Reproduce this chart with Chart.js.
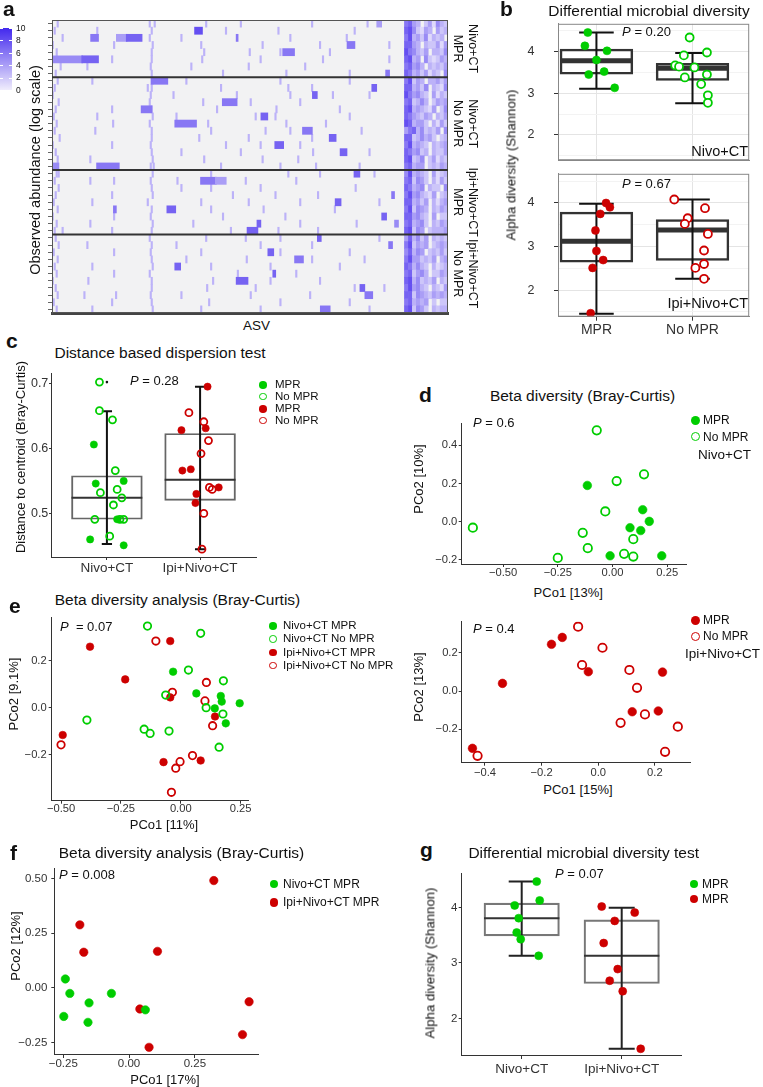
<!DOCTYPE html>
<html>
<head>
<meta charset="utf-8">
<title>Microbial diversity panels</title>
<script src="https://cdn.jsdelivr.net/npm/chart.js@4.4.1/dist/chart.umd.min.js"></script>
<style>
  body { margin: 0; background: #fff; }
  #fig { position: relative; width: 763px; height: 1087px; overflow: hidden; background: #fff;
         font-family: 'Liberation Sans', Arial, Helvetica, sans-serif; color: #111; }
  #fig canvas { position: absolute; }
  .t { position: absolute; white-space: nowrap; line-height: 1; }
  .dot { position: absolute; border-radius: 50%; box-sizing: border-box; }
</style>
</head>
<body>
<div id="fig"></div>
<script>
const FONT = "'Liberation Sans', Arial, Helvetica, sans-serif";
const GREEN = '#00cd00';
const RED = '#cd0000';

// ---------- a: ASV abundance heatmap ----------
const heatGroups = [['Nivo+CT', 'MPR'], ['Nivo+CT', 'No MPR'], ['Ipi+Nivo+CT', 'MPR'], ['Ipi+Nivo+CT', 'No MPR']];
const heatGroupSizes = [8, 13, 9, 11];
const asvCount = 400;
const heatLegendTicks = [10, 8, 6, 4, 2, 0];
// abundant runs of ASVs: [row, first ASV, last ASV, log abundance]
const heatBlocks = [
  [0, 328, 332, 4], [1, 144, 151, 8], [2, 39, 46, 6], [2, 65, 75, 4], [2, 75, 90, 7], [2, 186, 187, 6],
  [3, 298, 305, 6], [4, 233, 244, 6], [5, 0, 30, 5], [5, 30, 46, 7], [7, 337, 340, 6],
  [8, 100, 116, 6], [9, 323, 327, 7], [10, 263, 267, 7], [11, 172, 186, 6], [12, 90, 100, 6],
  [13, 211, 217, 7], [14, 124, 145, 6], [15, 253, 262, 6], [16, 280, 286, 7], [17, 225, 233, 7],
  [18, 291, 297, 7], [20, 0, 6, 5], [20, 45, 67, 6],
  [21, 305, 310, 7], [22, 150, 165, 6], [22, 165, 175, 4], [24, 343, 345, 6], [25, 286, 291, 7],
  [26, 116, 124, 7], [26, 62, 64, 6], [27, 333, 337, 7], [28, 207, 210, 7], [28, 346, 349, 5], [29, 197, 207, 7],
  [30, 268, 271, 7], [31, 340, 343, 6], [32, 218, 223, 7], [33, 245, 253, 6], [34, 124, 129, 7],
  [35, 223, 225, 7], [36, 186, 197, 7], [37, 311, 315, 7], [38, 316, 323, 6], [40, 271, 280, 6]
];
// isolated low-abundance ASVs in each row
const heatSparse = [
  [5, 98, 103, 155, 190, 262, 318], [2, 45, 100, 175, 228, 305], [10, 98, 130, 240, 297],
  [0, 62, 101, 150, 212, 270, 340], [4, 100, 153, 199, 230, 280], [60, 100, 151, 210, 273, 340],
  [8, 35, 99, 140, 198, 255], [3, 100, 172, 236, 300],
  [5, 40, 101, 135, 230, 300], [2, 96, 100, 170, 238, 262], [0, 99, 122, 186, 240, 283, 320],
  [6, 98, 152, 200, 250], [3, 60, 100, 166, 226, 290], [1, 45, 101, 125, 205, 225, 300],
  [4, 61, 98, 157, 236, 276], [2, 43, 100, 160, 215, 240, 312], [7, 100, 148, 198, 262],
  [0, 60, 99, 175, 210, 250], [3, 100, 130, 190, 263, 320], [5, 38, 101, 153, 212, 248],
  [99, 102, 170, 230, 266, 310],
  [4, 6, 101, 160, 238, 270, 325], [2, 38, 62, 99, 126, 195, 246], [6, 100, 130, 160, 210, 306],
  [3, 60, 101, 182, 225, 268], [1, 40, 96, 150, 198, 250, 330], [5, 100, 160, 213, 285],
  [0, 62, 99, 172, 235], [4, 38, 101, 142, 250, 307], [2, 10, 60, 100, 180, 228, 268],
  [3, 98, 155, 195, 230, 330], [6, 35, 100, 125, 210, 262], [1, 62, 99, 150, 230, 300],
  [5, 100, 135, 196, 262, 315], [2, 40, 101, 160, 220, 290], [4, 62, 98, 187, 246],
  [0, 36, 100, 162, 220, 270], [3, 100, 156, 205, 305, 335], [5, 32, 64, 99, 130, 200, 260],
  [1, 60, 100, 158, 230, 300], [4, 40, 101, 150, 210, 320]
];
const sparseLevel = 3;
// shared core ASVs 356-399: one digit (log abundance) per bin of 4 ASVs
const coreStart = 356;
const coreBin = 4;
const heatCore = [
  '67430241532', '78521430423', '68342513230', '77430322414', '86532403325', '78340521243', '67453032324', '76342413205',
  '68243033424', '77342503215', '86453204132', '67235302434', '78343214025', '76432430324', '87344203142',
  '46735232405', '77235342023', '68343203234', '76452303224', '78235024132', '67344023243',
  '58343204123', '67254203142', '76345032205', '68453214023', '77342403134', '68254303243', '77453204022',
  '67345203243', '78254023334',
  '47352403232', '68243402343', '57354023242', '68442324034', '76353203123', '67245302243', '78352324032',
  '68453203214', '77254324343', '67343402022', '78254203233'
];

// ---------- b: Shannon diversity by response, per treatment ----------
const bGroups = ['MPR', 'No MPR'];
const bYTicks = [1.5, 2, 2.5, 3, 3.5, 4, 4.5];
// per group: [lower whisker, Q1, median, Q3, upper whisker]
const bNivoStats = [[3.11, 3.46, 3.78, 4.06, 4.46], [2.76, 3.31, 3.60, 3.72, 3.97]];
const bIpiStats = [[1.46, 2.64, 3.12, 3.79, 3.98], [2.26, 2.68, 3.38, 3.62, 4.08]];
const bNivoMpr = [4.46, 4.14, 4.02, 3.80, 3.52, 3.45, 3.13];
const bNivoMprJit = [-0.09, -0.12, 0.11, 0.00, 0.08, -0.08, 0.19];
const bNivoNo = [4.34, 3.98, 3.91, 3.67, 3.64, 3.62, 3.45, 3.38, 3.22, 2.95, 2.77];
const bNivoNoJit = [-0.03, 0.15, -0.09, -0.18, -0.14, 0.02, 0.15, -0.08, 0.09, 0.16, 0.16];
const bIpiMpr = [4.00, 3.90, 3.75, 3.37, 2.90, 2.69, 2.51, 1.47];
const bIpiMprJit = [0.10, 0.14, 0.04, -0.01, 0.00, 0.07, -0.04, -0.06];
const bIpiNo = [4.08, 3.88, 3.65, 3.52, 3.29, 2.91, 2.60, 2.51, 2.26];
const bIpiNoJit = [-0.19, 0.13, -0.05, -0.08, 0.16, 0.12, 0.12, 0.03, 0.12];

// ---------- c: distance to centroid ----------
const cGroups = ['Nivo+CT', 'Ipi+Nivo+CT'];
const cYTicks = [0.5, 0.6, 0.7];
const cStats = [[0.453, 0.491, 0.524, 0.558, 0.657], [0.445, 0.520, 0.552, 0.623, 0.695]];
const cOutliers = [[1, 0.702]];
const cNivoMpr = [0.606, 0.546, 0.550, 0.460, 0.451, 0.491];
const cNivoMprJit = [-0.14, -0.12, 0.18, -0.18, 0.18, 0.11];
const cNivoNo = [0.702, 0.658, 0.644, 0.566, 0.532, 0.537, 0.513, 0.524, 0.491, 0.491, 0.491, 0.465];
const cNivoNoJit = [-0.08, -0.08, 0.06, 0.09, -0.07, 0.11, 0.07, 0.16, -0.13, 0.14, 0.18, 0.03];
const cIpiMpr = [0.695, 0.628, 0.631, 0.566, 0.568, 0.530, 0.516, 0.540];
const cIpiMprJit = [0.08, -0.20, 0.06, -0.19, -0.10, -0.04, -0.05, 0.20];
const cIpiNo = [0.655, 0.641, 0.612, 0.592, 0.540, 0.537, 0.500, 0.445];
const cIpiNoJit = [-0.12, 0.04, 0.09, 0.01, 0.10, 0.13, 0.04, 0.02];

// ---------- d: PCoA within each treatment ----------
const dNivoXTicks = [-0.5, -0.25, 0, 0.25];
const dNivoYTicks = [-0.2, 0, 0.2, 0.4];
const dNivoMprX = [-0.115, 0.138, 0.168, 0.080, 0.129, -0.011, 0.225];
const dNivoMprY = [0.190, 0.063, 0.002, -0.031, -0.046, -0.178, -0.178];
const dNivoNoX = [-0.072, 0.144, 0.019, -0.033, -0.638, -0.136, 0.095, -0.113, -0.250, 0.053, 0.095];
const dNivoNoY = [0.478, 0.248, 0.213, 0.054, -0.031, -0.058, -0.091, -0.138, -0.189, -0.168, -0.182];
const dIpiXTicks = [-0.4, -0.2, 0, 0.2];
const dIpiYTicks = [-0.2, 0, 0.2];
const dIpiMprX = [-0.165, -0.127, -0.035, -0.338, 0.227, 0.120, 0.212, -0.444];
const dIpiMprY = [0.244, 0.280, 0.101, 0.040, 0.099, -0.108, -0.104, -0.299];
const dIpiNoX = [-0.071, 0.015, -0.057, 0.110, 0.137, 0.165, 0.079, 0.281, 0.236, -0.426];
const dIpiNoY = [0.336, 0.226, 0.136, 0.110, 0.017, -0.122, -0.166, -0.186, -0.317, -0.338];

// ---------- e: PCoA, all four groups ----------
const eXTicks = [-0.5, -0.25, 0, 0.25];
const eYTicks = [-0.2, 0, 0.2];
const eNivoMprX = [-0.032, 0.065, 0.167, 0.171, 0.142, 0.246, 0.188];
const eNivoMprY = [0.154, 0.061, 0.050, 0.026, -0.003, 0.019, -0.067];
const eNivoNoX = [-0.139, 0.083, 0.032, 0.178, -0.063, 0.106, 0.176, -0.392, -0.153, -0.128, -0.049, 0.160];
const eNivoNoY = [0.349, 0.318, 0.161, 0.115, 0.054, 0.000, -0.027, -0.053, -0.092, -0.110, -0.100, -0.169];
const eIpiMprX = [-0.044, -0.379, -0.232, -0.044, 0.143, -0.493, -0.072, 0.083];
const eIpiMprY = [0.285, 0.261, 0.121, 0.044, -0.038, -0.117, -0.233, -0.226];
const eIpiNoX = [-0.104, 0.107, -0.035, 0.101, 0.133, -0.500, 0.049, -0.003, -0.021, -0.039];
const eIpiNoY = [0.285, 0.108, 0.066, 0.029, -0.077, -0.159, -0.205, -0.231, -0.259, -0.362];

// ---------- f: PCoA, responders only ----------
const fXTicks = [-0.25, 0, 0.25];
const fYTicks = [-0.25, 0, 0.25, 0.5];
const fNivoX = [-0.242, -0.225, -0.248, -0.152, -0.156, -0.067, 0.062];
const fNivoY = [0.041, -0.025, -0.130, -0.068, -0.157, -0.025, -0.100];
const fIpiX = [0.322, -0.187, -0.172, 0.108, 0.041, 0.456, 0.431, 0.076];
const fIpiY = [0.490, 0.288, 0.163, 0.167, -0.096, -0.063, -0.213, -0.271];

// ---------- g: Shannon diversity of responders ----------
const gGroups = ['Nivo+CT', 'Ipi+Nivo+CT'];
const gYTicks = [2, 3, 4];
const gStats = [[3.13, 3.49, 3.81, 4.08, 4.47], [1.45, 2.63, 3.13, 3.78, 4.00]];
const gNivo = [4.47, 4.13, 4.04, 3.81, 3.55, 3.43, 3.13];
const gNivoJit = [0.15, 0.18, -0.07, -0.03, -0.05, -0.01, 0.17];
const gIpi = [4.02, 3.91, 3.76, 3.36, 2.89, 2.68, 2.49, 1.45];
const gIpiJit = [-0.20, 0.13, -0.07, -0.18, -0.04, -0.12, 0.01, 0.19];

// ================= helpers =================
const fig = document.getElementById('fig');

// plot area (x, y, w, h) on the page plus room for the axes; canvas edges snapped to whole pixels
function norm(g) {
  const left = Math.floor(g.x - g.ml), top = Math.floor(g.y - g.mt);
  const right = Math.ceil(g.x + g.w + g.mr), bottom = Math.ceil(g.y + g.h + g.mb);
  g.ml = g.x - left; g.mt = g.y - top;
  g.mr = right - g.x - g.w; g.mb = bottom - g.y - g.h;
  g.left = left; g.top = top; g.cw = right - left; g.ch = bottom - top;
  return g;
}

function addCanvas(g) {
  const cv = document.createElement('canvas');
  cv.width = g.cw; cv.height = g.ch;
  cv.style.left = g.left + 'px';
  cv.style.top = g.top + 'px';
  fig.appendChild(cv);
  return cv;
}

function fixSize(g, dir) {
  return s => {
    if (dir === 'x') s.height = g.mb; else s.width = g.ml;
    s.paddingTop = s.paddingBottom = s.paddingLeft = s.paddingRight = 0;
  };
}

function axis(g, dir, o) {
  const size = o.size || 11.2;
  const tl = o.tl === undefined ? 3 : o.tl;
  let pad = 0;
  if (o.labelAt !== undefined) {
    pad = dir === 'x' ? o.labelAt - (g.y + g.h) - tl - size / 2 : g.x - o.labelAt - tl;
  }
  return {
    type: 'linear', min: o.min, max: o.max, bounds: 'data', offset: false, beginAtZero: false,
    afterFit: fixSize(g, dir),
    afterBuildTicks: s => { s.ticks = o.ticks.map(v => ({ value: v })); },
    ticks: {
      display: !!o.fmt, autoSkip: false, maxRotation: 0, minRotation: 0,
      color: '#333', padding: Math.max(0, pad), callback: o.fmt || (() => ''),
      font: { family: FONT, size, lineHeight: 1 }
    },
    grid: {
      display: true, offset: false, drawOnChartArea: !!o.gridColor, drawTicks: tl > 0,
      color: o.gridColor || '#333', tickColor: o.tickColor || '#333', tickLength: tl, lineWidth: 1
    },
    border: { display: true, color: o.line || '#333', width: o.lineW || 1 }
  };
}

function plot(g, datasets, scales, plugins) {
  return new Chart(addCanvas(g), {
    type: 'scatter',
    data: { datasets },
    options: {
      responsive: false, animation: false, events: [],
      layout: { padding: { left: 0, top: g.mt, right: g.mr, bottom: 0 } },
      plugins: { legend: { display: false }, tooltip: { enabled: false } },
      scales
    },
    plugins: plugins || []
  });
}

const frame = color => ({
  id: 'frame',
  afterDatasetsDraw(chart) {
    const { ctx, chartArea: a } = chart;
    ctx.save();
    ctx.strokeStyle = color; ctx.lineWidth = 1;
    ctx.strokeRect(a.left + 0.5, a.top + 0.5, a.width - 1, a.height - 1);
    ctx.restore();
  }
});

function jittered(vals, jit, group) {
  return vals.map((v, i) => ({ x: group + jit[i], y: v }));
}
function pairs(xs, ys) {
  return xs.map((x, i) => ({ x, y: ys[i] }));
}
function points(data, color, open, r, fill) {
  return {
    data, order: 1, pointRadius: r, pointHoverRadius: r,
    pointBackgroundColor: open ? (fill || 'rgba(255,255,255,0)') : color,
    pointBorderColor: color, pointBorderWidth: open ? 1.8 : 0.6
  };
}

// box, median and whisker datasets from [lo, q1, med, q3, hi] per group
function boxSets(stats, halfW, capW, pxPerUnit, st) {
  const boxes = stats.map((s, i) => ({ x: i + 1, y: [s[1], s[3]] }));
  const med = [], wh = [];
  stats.forEach((s, i) => {
    const c = i + 1;
    med.push({ x: c - halfW, y: s[2] }, { x: c + halfW, y: s[2] }, { x: c, y: null });
    wh.push({ x: c - capW, y: s[0] }, { x: c + capW, y: s[0] }, { x: c, y: null },
            { x: c, y: s[0] }, { x: c, y: s[4] }, { x: c, y: null },
            { x: c - capW, y: s[4] }, { x: c + capW, y: s[4] }, { x: c, y: null });
  });
  return [
    { type: 'bar', data: boxes, order: 6, grouped: false, backgroundColor: st.fill, borderColor: st.box,
      borderWidth: st.boxW, borderSkipped: false, barThickness: 2 * halfW * pxPerUnit },
    { type: 'line', data: med, order: 5, borderColor: st.med, borderWidth: st.medW, pointRadius: 0, spanGaps: false },
    { type: 'line', data: wh, order: 4, borderColor: st.wh, borderWidth: st.whW, pointRadius: 0, spanGaps: false }
  ];
}

function heatColor(v) {
  const t = Math.max(0, Math.min(10, v)) / 10;
  const lo = [240, 237, 252], hi = [66, 40, 238];
  return 'rgb(' + lo.map((c, i) => Math.round(c + (hi[i] - c) * t)).join(',') + ')';
}

const minus = s => s.replace('-', '\u2212');
const dec = n => v => minus(v.toFixed(n));

// ================= a: heatmap =================
const geoA = norm({ x: 52, y: 20, w: 396, h: 293, ml: 52, mr: 45, mt: 2, mb: 4 });
const heatRows = [];
heatGroups.forEach((grp, gi) => {
  for (let i = 1; i <= heatGroupSizes[gi]; i++) heatRows.push(grp.join(' ') + ' #' + i);
});
const heatCells = [];
heatCore.forEach((bins, r) => {
  [...bins].forEach((d, k) => {
    const v = Number(d);
    if (v > 0) heatCells.push({ y: heatRows[r], x: [coreStart + k * coreBin, coreStart + (k + 1) * coreBin], v });
  });
});
heatSparse.forEach((asvs, r) => asvs.forEach(a => heatCells.push({ y: heatRows[r], x: [a, a + 1.5], v: sparseLevel })));
heatBlocks.forEach(([r, a, b, v]) => heatCells.push({ y: heatRows[r], x: [a, b + 1], v }));

const heatDecor = {
  id: 'heatDecor',
  beforeDatasetsDraw(chart) {
    const { ctx, chartArea: a } = chart;
    ctx.save();
    ctx.fillStyle = '#f2f2f3';
    ctx.fillRect(a.left, a.top, a.width, a.height);
    ctx.restore();
  },
  afterDatasetsDraw(chart) {
    const { ctx, chartArea: a, scales: { y } } = chart;
    ctx.save();
    ctx.strokeStyle = '#555'; ctx.lineWidth = 1;
    ctx.strokeRect(a.left + 0.5, a.top + 0.5, a.width - 1, a.height - 1);
    ctx.font = '12.5px ' + FONT;
    ctx.fillStyle = '#111'; ctx.textAlign = 'center'; ctx.textBaseline = 'middle';
    let first = 0;
    heatGroups.forEach((lines, gi) => {
      const last = first + heatGroupSizes[gi] - 1;
      if (gi < heatGroups.length - 1) {
        const yb = y.getPixelForValue(last + 0.5);
        ctx.strokeStyle = '#333'; ctx.lineWidth = 2;
        ctx.beginPath(); ctx.moveTo(a.left, yb); ctx.lineTo(a.right, yb); ctx.stroke();
      }
      const yc = (y.getPixelForValue(first) + y.getPixelForValue(last)) / 2;
      lines.forEach((ln, li) => {
        ctx.save();
        ctx.translate(a.right + 24 - li * 15, yc);
        ctx.rotate(Math.PI / 2);
        ctx.fillText(ln, 0, 0);
        ctx.restore();
      });
      first = last + 1;
    });
    ctx.restore();
  }
};

new Chart(addCanvas(geoA), {
  type: 'bar',
  data: {
    labels: heatRows,
    datasets: [{
      data: heatCells, grouped: false, categoryPercentage: 1, barPercentage: 1, borderWidth: 0,
      backgroundColor: ctx => heatColor(ctx.raw ? ctx.raw.v : 0)
    }]
  },
  options: {
    indexAxis: 'y', responsive: false, animation: false, events: [],
    layout: { padding: { left: 0, top: geoA.mt, right: geoA.mr, bottom: 0 } },
    plugins: { legend: { display: false }, tooltip: { enabled: false } },
    scales: {
      x: {
        type: 'linear', min: 0, max: asvCount, bounds: 'data', offset: false, beginAtZero: false, z: 1,
        afterFit: fixSize(geoA, 'x'),
        ticks: { display: false }, grid: { display: false },
        border: { display: true, color: '#444', width: 3 }
      },
      y: {
        type: 'category', offset: true,
        afterFit: fixSize(geoA, 'y'),
        ticks: { display: false },
        grid: { display: true, drawOnChartArea: false, offset: false, tickLength: 4, color: '#666' },
        border: { display: true, color: '#555', width: 1 }
      }
    }
  },
  plugins: [heatDecor]
});

// ================= b: two facets =================
const bMinor = ctx => ctx.tick && ctx.tick.value % 1 !== 0;
const bStyle = { fill: '#ffffff', box: '#333', boxW: 2.5, med: '#333', medW: 5, wh: '#111', whW: 2 };
function bPanel(g, stats, mpr, mprJit, no, noJit, color, showX) {
  const ppu = g.w / (2.59 - 0.6);
  plot(g, [
    points(jittered(mpr, mprJit, 1), color, false, 4),
    points(jittered(no, noJit, 2), color, true, 4, '#ffffff'),
    ...boxSets(stats, 0.375, 0.18, ppu, bStyle)
  ], {
    x: axis(g, 'x', {
      min: 0.6, max: 2.59, ticks: [1, 2], fmt: showX ? v => bGroups[v - 1] : null,
      size: 14, tl: showX ? 4 : 0, labelAt: 330, gridColor: '#e4e4e4', line: '#888'
    }),
    y: axis(g, 'y', {
      min: 1.39, max: 4.67, ticks: bYTicks, fmt: v => (v % 1 === 0 ? String(v) : ''),
      size: 12.5, tl: 4, labelAt: 534.5, line: '#888',
      gridColor: ctx => (bMinor(ctx) ? '#f3f3f3' : '#e4e4e4'),
      tickColor: ctx => (bMinor(ctx) ? 'rgba(0,0,0,0)' : '#333')
    })
  }, [frame('#888')]);
}
bPanel(norm({ x: 558, y: 20, w: 193, h: 143.3, ml: 58, mr: 4, mt: 2, mb: 2 }),
  bNivoStats, bNivoMpr, bNivoMprJit, bNivoNo, bNivoNoJit, GREEN, false);
bPanel(norm({ x: 558, y: 170, w: 193, h: 146.7, ml: 58, mr: 4, mt: 2, mb: 22 }),
  bIpiStats, bIpiMpr, bIpiMprJit, bIpiNo, bIpiNoJit, RED, true);

// ================= c: dispersion =================
const geoC = norm({ x: 51, y: 373, w: 205, h: 184, ml: 36, mr: 12, mt: 8, mb: 20 });
plot(geoC, [
  { data: cOutliers.map(([x, y]) => ({ x, y })), order: 0, pointRadius: 1.3, pointBackgroundColor: '#111', pointBorderWidth: 0 },
  points(jittered(cNivoMpr, cNivoMprJit, 1), GREEN, false, 3.6),
  points(jittered(cNivoNo, cNivoNoJit, 1), GREEN, true, 3.5),
  points(jittered(cIpiMpr, cIpiMprJit, 2), RED, false, 3.6),
  points(jittered(cIpiNo, cIpiNoJit, 2), RED, true, 3.5),
  ...boxSets(cStats, 0.38, 0.055, geoC.w / 2.2,
    { fill: 'rgba(255,255,255,0)', box: '#666', boxW: 1.3, med: '#333', medW: 2, wh: '#111', whW: 2 })
], {
  x: axis(geoC, 'x', { min: 0.4, max: 2.6, ticks: [1, 2], fmt: v => cGroups[v - 1], size: 13.5, labelAt: 568 }),
  y: axis(geoC, 'y', { min: 0.433, max: 0.716, ticks: cYTicks, fmt: dec(1), size: 12.5, tl: 2, labelAt: 48.3 })
});

// ================= d: PCoA per treatment =================
const geoD1 = norm({ x: 461.7, y: 423.3, w: 225, h: 140.7, ml: 36, mr: 14, mt: 8, mb: 18 });
plot(geoD1, [
  points(pairs(dNivoMprX, dNivoMprY), GREEN, false, 4.3),
  points(pairs(dNivoNoX, dNivoNoY), GREEN, true, 4.2)
], {
  x: axis(geoD1, 'x', { min: -0.689, max: 0.339, ticks: dNivoXTicks, fmt: dec(2), labelAt: 573.3 }),
  y: axis(geoD1, 'y', { min: -0.221, max: 0.515, ticks: dNivoYTicks, fmt: dec(1), labelAt: 457.3 })
});
const geoD2 = norm({ x: 461.7, y: 621.7, w: 228.3, h: 141, ml: 36, mr: 14, mt: 8, mb: 18 });
plot(geoD2, [
  points(pairs(dIpiMprX, dIpiMprY), RED, false, 4.3),
  points(pairs(dIpiNoX, dIpiNoY), RED, true, 4.2)
], {
  x: axis(geoD2, 'x', { min: -0.482, max: 0.324, ticks: dIpiXTicks, fmt: dec(1), labelAt: 773.3 }),
  y: axis(geoD2, 'y', { min: -0.374, max: 0.362, ticks: dIpiYTicks, fmt: dec(1), labelAt: 457.7 })
});

// ================= e: PCoA all groups =================
const geoE = norm({ x: 51.7, y: 617, w: 196.6, h: 183.7, ml: 36, mr: 14, mt: 8, mb: 18 });
plot(geoE, [
  points(pairs(eNivoMprX, eNivoMprY), GREEN, false, 3.8),
  points(pairs(eNivoNoX, eNivoNoY), GREEN, true, 3.7),
  points(pairs(eIpiMprX, eIpiMprY), RED, false, 3.8),
  points(pairs(eIpiNoX, eIpiNoY), RED, true, 3.7)
], {
  x: axis(geoE, 'x', { min: -0.539, max: 0.282, ticks: eXTicks, fmt: dec(2), labelAt: 809.3 }),
  y: axis(geoE, 'y', { min: -0.398, max: 0.388, ticks: eYTicks, fmt: dec(1), labelAt: 46.7 })
});

// ================= f: PCoA responders =================
const geoF = norm({ x: 54.3, y: 868.3, w: 204, h: 186.7, ml: 40, mr: 14, mt: 8, mb: 18 });
plot(geoF, [
  points(pairs(fNivoX, fNivoY), GREEN, false, 4.2),
  points(pairs(fIpiX, fIpiY), RED, false, 4.2)
], {
  x: axis(geoF, 'x', { min: -0.284, max: 0.491, ticks: fXTicks, fmt: dec(2), size: 11.5, labelAt: 1063.3 }),
  y: axis(geoF, 'y', { min: -0.306, max: 0.546, ticks: fYTicks, fmt: dec(2), size: 11.5, labelAt: 47.3 })
});

// ================= g: alpha diversity responders =================
const geoG = norm({ x: 461.7, y: 873.3, w: 220, h: 182.7, ml: 36, mr: 14, mt: 8, mb: 22 });
plot(geoG, [
  points(jittered(gNivo, gNivoJit, 1), GREEN, false, 4),
  points(jittered(gIpi, gIpiJit, 2), RED, false, 4),
  ...boxSets(gStats, 0.377, 0.13, geoG.w / 2.2,
    { fill: 'rgba(255,255,255,0)', box: '#777', boxW: 1.5, med: '#333', medW: 2, wh: '#222', whW: 2 })
], {
  x: axis(geoG, 'x', { min: 0.4, max: 2.6, ticks: [1, 2], fmt: v => gGroups[v - 1], size: 13.5, labelAt: 1069 }),
  y: axis(geoG, 'y', { min: 1.32, max: 4.62, ticks: gYTicks, fmt: v => String(v), size: 11.5, labelAt: 457.3 })
});

// ================= text, legends =================
function label(html, x, base, size, align, style) {
  const d = document.createElement('div');
  d.className = 't';
  d.innerHTML = html;
  d.style.fontSize = size + 'px';
  d.style.top = (base - 0.847 * size) + 'px';
  if (align === 'center') { d.style.left = x + 'px'; d.style.transform = 'translateX(-50%)'; }
  else if (align === 'right') { d.style.right = (763 - x) + 'px'; }
  else { d.style.left = x + 'px'; }
  if (style) Object.assign(d.style, style);
  fig.appendChild(d);
}
function vlabel(html, cx, cy, size) {
  const d = document.createElement('div');
  d.className = 't';
  d.innerHTML = html;
  d.style.fontSize = size + 'px';
  d.style.left = cx + 'px';
  d.style.top = cy + 'px';
  d.style.transform = 'translate(-50%, -50%) rotate(-90deg)';
  fig.appendChild(d);
}
function dot(cx, cy, color, open, d) {
  const el = document.createElement('div');
  el.className = 'dot';
  el.style.width = el.style.height = d + 'px';
  el.style.left = (cx - d / 2) + 'px';
  el.style.top = (cy - d / 2) + 'px';
  el.style.background = open ? 'transparent' : color;
  el.style.border = open ? '1.7px solid ' + color : 'none';
  fig.appendChild(el);
}
function legendRow(cx, cy, color, open, d, text, tx, size) {
  dot(cx, cy, color, open, d);
  label(text, tx, cy + 0.358 * size, size);
}
const P = v => '<i>P</i> = ' + v;
const bold = { fontWeight: 'bold' };

// panel letters
label('a', 3, 16, 21, 'left', bold);
label('b', 500, 16, 21, 'left', bold);
label('c', 6, 348, 21, 'left', bold);
label('d', 419, 402, 21, 'left', bold);
label('e', 9, 613, 21, 'left', bold);
label('f', 10, 860, 21, 'left', bold);
label('g', 420, 857, 21, 'left', bold);

// titles
label('Differential microbial diversity', 649, 16, 15.5, 'center');
label('Distance based dispersion test', 160, 358, 15.5, 'center');
label('Beta diversity (Bray-Curtis)', 582.5, 401, 15.5, 'center');
label('Beta diversity analysis (Bray-Curtis)', 177.5, 605, 15.5, 'center');
label('Beta diversity analysis (Bray-Curtis)', 181.5, 858, 15.5, 'center');
label('Differential microbial diversity test', 583.7, 858, 15.5, 'center');

// a: colour key and axis titles
const key = document.createElement('div');
key.style.cssText = 'position:absolute;left:0;top:28px;width:12px;height:62px;background:linear-gradient(to bottom,'
  + heatColor(10) + ',' + heatColor(0) + ');';
fig.appendChild(key);
heatLegendTicks.forEach((v, i) => {
  const y = 28 + i * 62 / (heatLegendTicks.length - 1);
  label(String(v), 16, y + 3, 8.5);
  const tk = document.createElement('div');
  tk.style.cssText = 'position:absolute;left:0;width:12px;height:1px;top:' + Math.round(y) + 'px;'
    + 'background:linear-gradient(to right,#fff 0,#fff 3px,transparent 3px,transparent 9px,#fff 9px);';
  fig.appendChild(tk);
});
vlabel('Observed abundance (log scale)', 35, 170, 14.5);
label('ASV', 256.5, 330, 13.5, 'center');

// b annotations
vlabel('Alpha diversity (Shannon)', 511, 164.5, 13.2);
label(P('0.20'), 646.5, 36, 13, 'center');
label(P('0.67'), 646.5, 188.3, 13, 'center');
label('Nivo+CT', 748, 156.7, 14.5, 'right');
label('Ipi+Nivo+CT', 748, 308.3, 14.5, 'right');

// c annotations
vlabel('Distance to centroid (Bray-Curtis)', 20, 457, 13);
label(P('0.28'), 130, 385, 13);
legendRow(263, 385, GREEN, false, 7.5, 'MPR', 275, 11.5);
legendRow(263, 396.5, GREEN, true, 7.5, 'No MPR', 275, 11.5);
legendRow(263, 409, RED, false, 7.5, 'MPR', 275, 11.5);
legendRow(263, 420.5, RED, true, 7.5, 'No MPR', 275, 11.5);

// d annotations
vlabel('PCo2 [10%]', 418, 479, 13);
label('PCo1 [13%]', 568.3, 597, 13, 'center');
label(P('0.6'), 473, 427.3, 13);
legendRow(695, 420, GREEN, false, 9, 'MPR', 703, 12);
legendRow(695, 436.7, GREEN, true, 9, 'No MPR', 703, 12);
label('Nivo+CT', 698, 455 + 0.358 * 13.5, 13.5);
vlabel('PCo2 [13%]', 418, 686.7, 13);
label('PCo1 [15%]', 578, 794, 13, 'center');
label(P('0.4'), 473, 632.7, 13);
legendRow(695, 620, RED, false, 9, 'MPR', 703, 12);
legendRow(695, 636, RED, true, 9, 'No MPR', 703, 12);
label('Ipi+Nivo+CT', 685, 654 + 0.358 * 13.5, 13.5);

// e annotations
vlabel('PCo2 [9.1%]', 13.3, 693.5, 13);
label('PCo1 [11%]', 164, 829.5, 13, 'center');
label('<i>P</i>&nbsp;&nbsp;= 0.07', 60, 631, 13);
legendRow(273, 626, GREEN, false, 7.5, 'Nivo+CT MPR', 283, 11.5);
legendRow(273, 639, GREEN, true, 7.5, 'Nivo+CT No MPR', 283, 11.5);
legendRow(273, 652.3, RED, false, 7.5, 'Ipi+Nivo+CT MPR', 283, 11.5);
legendRow(273, 665.7, RED, true, 7.5, 'Ipi+Nivo+CT No MPR', 283, 11.5);

// f annotations
vlabel('PCo2 [12%]', 15, 945.8, 13);
label('PCo1 [17%]', 165, 1084, 13, 'center');
label(P('0.008'), 59, 879, 13);
legendRow(274, 884, GREEN, false, 8.5, 'Nivo+CT MPR', 283, 12);
legendRow(274, 902.3, RED, false, 8.5, 'Ipi+Nivo+CT MPR', 283, 12);

// g annotations
vlabel('Alpha diversity (Shannon)', 430, 963, 13.2);
label(P('0.07'), 555, 877.7, 13);
legendRow(694, 884, GREEN, false, 8.5, 'MPR', 702, 12);
legendRow(694, 899, RED, false, 8.5, 'MPR', 702, 12);
</script>
</body>
</html>
